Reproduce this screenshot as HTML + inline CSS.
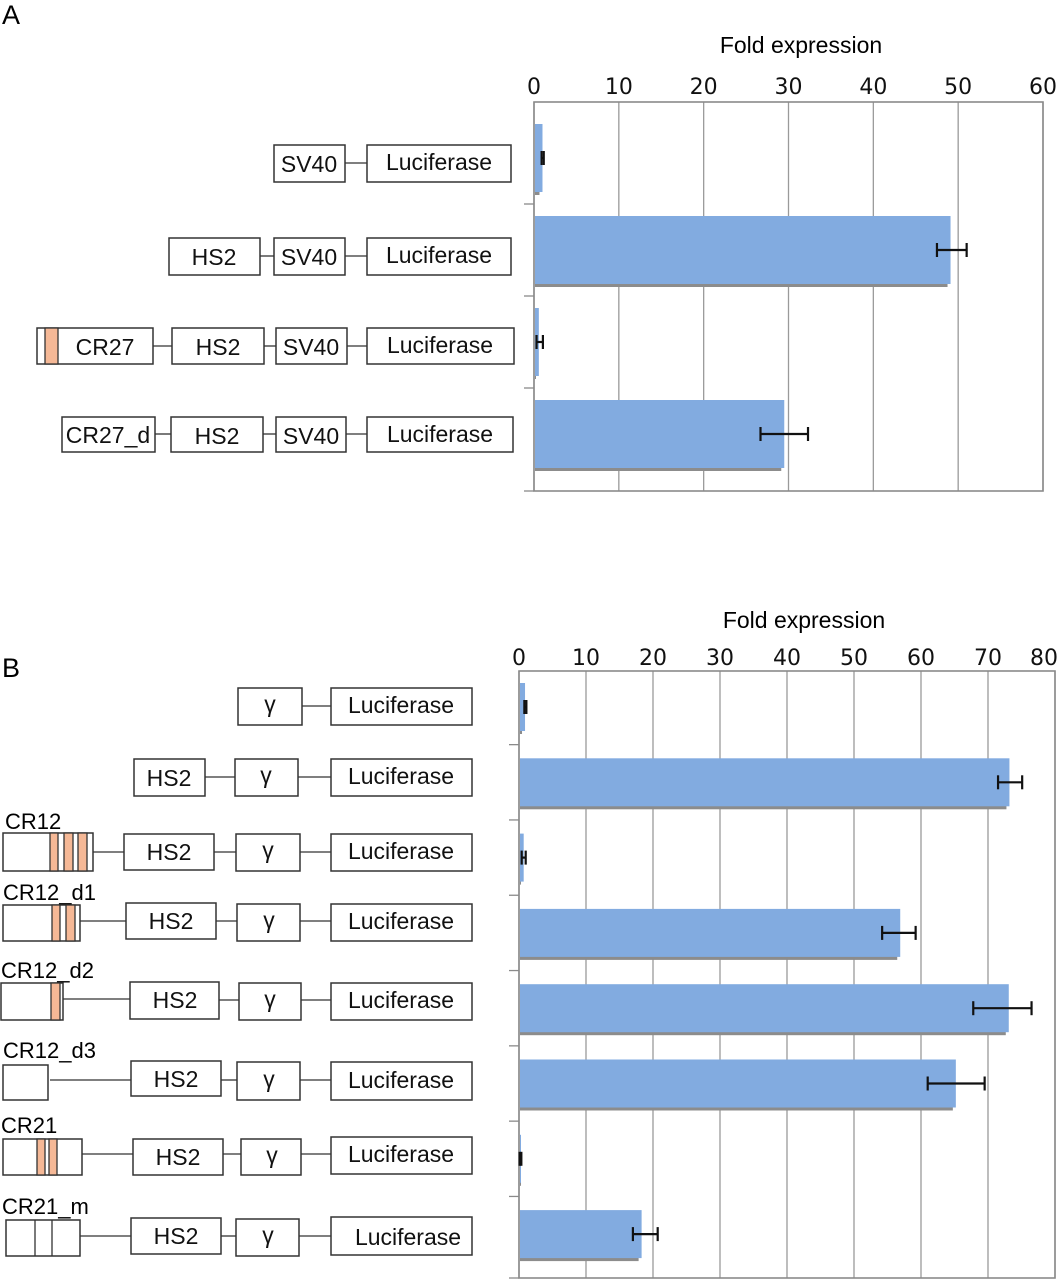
<!DOCTYPE html>
<html><head><meta charset="utf-8"><style>
html,body{margin:0;padding:0;background:#fff;}
svg{display:block;font-family:"Liberation Sans",sans-serif;}
.box{fill:#fff;stroke:#333;stroke-width:1.5;}
.ln{stroke:#333;stroke-width:1.3;}
.st{fill:#f5b896;stroke:#333;stroke-width:1.3;}
.lbl{font-size:23px;fill:#111;text-anchor:middle;}
.tick{font-family:"DejaVu Sans",sans-serif;font-size:22px;fill:#111;text-anchor:middle;}
</style></head><body>
<svg id="fig" width="1059" height="1280" viewBox="0 0 1059 1280">
<text x="2" y="24" font-size="27">A</text>
<text x="2" y="677" font-size="27">B</text>
<text x="801" y="53" font-size="23" text-anchor="middle">Fold expression</text>
<text x="804" y="628" font-size="23" text-anchor="middle">Fold expression</text>

<g>
<rect class="box" x="274" y="145" width="71" height="37"/><text class="lbl" x="309" y="172">SV40</text>
<line class="ln" x1="345" y1="163" x2="367" y2="163"/>
<rect class="box" x="367" y="145" width="144" height="37"/><text class="lbl" x="439" y="170">Luciferase</text>

<rect class="box" x="169" y="238" width="91" height="37"/><text class="lbl" x="214" y="265">HS2</text>
<line class="ln" x1="260" y1="256" x2="274" y2="256"/>
<rect class="box" x="274" y="238" width="71" height="37"/><text class="lbl" x="309" y="265">SV40</text>
<line class="ln" x1="345" y1="256" x2="367" y2="256"/>
<rect class="box" x="367" y="238" width="144" height="37"/><text class="lbl" x="439" y="263">Luciferase</text>

<rect class="box" x="37" y="328" width="116" height="36"/><rect class="st" x="45" y="328" width="13" height="36"/><text class="lbl" x="105" y="355">CR27</text>
<line class="ln" x1="153" y1="346" x2="172" y2="346"/>
<rect class="box" x="172" y="328" width="92" height="36"/><text class="lbl" x="218" y="355">HS2</text>
<line class="ln" x1="264" y1="346" x2="276" y2="346"/>
<rect class="box" x="276" y="328" width="71" height="36"/><text class="lbl" x="311" y="355">SV40</text>
<line class="ln" x1="347" y1="346" x2="367" y2="346"/>
<rect class="box" x="367" y="328" width="147" height="36"/><text class="lbl" x="440" y="353">Luciferase</text>

<rect class="box" x="62" y="417" width="93" height="35"/><text class="lbl" x="108" y="443">CR27_d</text>
<line class="ln" x1="155" y1="434" x2="171" y2="434"/>
<rect class="box" x="171" y="417" width="92" height="35"/><text class="lbl" x="217" y="444">HS2</text>
<line class="ln" x1="263" y1="434" x2="276" y2="434"/>
<rect class="box" x="276" y="417" width="70" height="35"/><text class="lbl" x="311" y="444">SV40</text>
<line class="ln" x1="346" y1="434" x2="367" y2="434"/>
<rect class="box" x="367" y="417" width="146" height="35"/><text class="lbl" x="440" y="442">Luciferase</text>
</g>

<g>
<rect class="box" x="238" y="688" width="64" height="37"/><text class="lbl" x="270" y="712">γ</text>
<line class="ln" x1="302" y1="706" x2="331" y2="706"/>
<rect class="box" x="331" y="688" width="141" height="37"/><text class="lbl" x="401" y="713">Luciferase</text>

<rect class="box" x="134" y="759" width="71" height="37"/><text class="lbl" x="169" y="786">HS2</text>
<line class="ln" x1="205" y1="777" x2="235" y2="777"/>
<rect class="box" x="235" y="759" width="63" height="37"/><text class="lbl" x="266" y="783">γ</text>
<line class="ln" x1="298" y1="777" x2="331" y2="777"/>
<rect class="box" x="331" y="759" width="141" height="37"/><text class="lbl" x="401" y="784">Luciferase</text>

<text x="5" y="829" font-size="22">CR12</text>
<rect class="box" x="3" y="833" width="90" height="38"/>
<rect class="st" x="50" y="833" width="8" height="38"/><rect class="st" x="64" y="833" width="9" height="38"/><rect class="st" x="78" y="833" width="9" height="38"/>
<line class="ln" x1="93" y1="852" x2="124" y2="852"/>
<rect class="box" x="124" y="834" width="90" height="36"/><text class="lbl" x="169" y="860">HS2</text>
<line class="ln" x1="214" y1="852" x2="236" y2="852"/>
<rect class="box" x="236" y="834" width="64" height="37"/><text class="lbl" x="268" y="858">γ</text>
<line class="ln" x1="300" y1="852" x2="331" y2="852"/>
<rect class="box" x="331" y="834" width="141" height="37"/><text class="lbl" x="401" y="859">Luciferase</text>

<text x="3" y="900" font-size="22">CR12_d1</text>
<rect class="box" x="3" y="905" width="77" height="36"/>
<rect class="st" x="52" y="905" width="8" height="36"/><rect class="st" x="66" y="905" width="9" height="36"/>
<line class="ln" x1="80" y1="921" x2="126" y2="921"/>
<rect class="box" x="126" y="903" width="90" height="36"/><text class="lbl" x="171" y="929">HS2</text>
<line class="ln" x1="216" y1="921" x2="237" y2="921"/>
<rect class="box" x="237" y="904" width="63" height="37"/><text class="lbl" x="269" y="928">γ</text>
<line class="ln" x1="300" y1="921" x2="331" y2="921"/>
<rect class="box" x="331" y="904" width="141" height="37"/><text class="lbl" x="401" y="929">Luciferase</text>

<text x="1" y="978" font-size="22">CR12_d2</text>
<rect class="box" x="1" y="983" width="62" height="37"/>
<rect class="st" x="51" y="983" width="9" height="37"/>
<line class="ln" x1="63" y1="999" x2="130" y2="999"/>
<rect class="box" x="130" y="982" width="89" height="37"/><text class="lbl" x="175" y="1008">HS2</text>
<line class="ln" x1="219" y1="1000" x2="239" y2="1000"/>
<rect class="box" x="239" y="983" width="62" height="37"/><text class="lbl" x="270" y="1007">γ</text>
<line class="ln" x1="301" y1="1000" x2="331" y2="1000"/>
<rect class="box" x="331" y="983" width="141" height="37"/><text class="lbl" x="401" y="1008">Luciferase</text>

<text x="3" y="1058" font-size="22">CR12_d3</text>
<rect class="box" x="3" y="1065" width="45" height="35"/>
<line class="ln" x1="50" y1="1080" x2="131" y2="1080"/>
<rect class="box" x="131" y="1061" width="90" height="35"/><text class="lbl" x="176" y="1087">HS2</text>
<line class="ln" x1="221" y1="1080" x2="237" y2="1080"/>
<rect class="box" x="237" y="1062" width="63" height="38"/><text class="lbl" x="269" y="1087">γ</text>
<line class="ln" x1="300" y1="1080" x2="331" y2="1080"/>
<rect class="box" x="331" y="1062" width="141" height="38"/><text class="lbl" x="401" y="1088">Luciferase</text>

<text x="1" y="1133" font-size="22">CR21</text>
<rect class="box" x="3" y="1139" width="79" height="36"/>
<rect class="st" x="37" y="1139" width="8" height="36"/><rect class="st" x="49" y="1139" width="8" height="36"/>
<line class="ln" x1="82" y1="1154" x2="133" y2="1154"/>
<rect class="box" x="133" y="1139" width="90" height="36"/><text class="lbl" x="178" y="1165">HS2</text>
<line class="ln" x1="223" y1="1154" x2="241" y2="1154"/>
<rect class="box" x="241" y="1139" width="60" height="36"/><text class="lbl" x="272" y="1163">γ</text>
<line class="ln" x1="301" y1="1154" x2="331" y2="1154"/>
<rect class="box" x="331" y="1137" width="141" height="37"/><text class="lbl" x="401" y="1162">Luciferase</text>

<text x="2" y="1214" font-size="22">CR21_m</text>
<rect class="box" x="6" y="1220" width="74" height="36"/>
<line class="ln" x1="35" y1="1220" x2="35" y2="1256"/><line class="ln" x1="52" y1="1220" x2="52" y2="1256"/>
<line class="ln" x1="80" y1="1236" x2="131" y2="1236"/>
<rect class="box" x="131" y="1218" width="90" height="36"/><text class="lbl" x="176" y="1244">HS2</text>
<line class="ln" x1="221" y1="1236" x2="236" y2="1236"/>
<rect class="box" x="236" y="1219" width="63" height="37"/><text class="lbl" x="268" y="1243">γ</text>
<line class="ln" x1="299" y1="1236" x2="331" y2="1236"/>
<rect class="box" x="331" y="1217" width="141" height="38"/><text class="lbl" x="408" y="1245">Luciferase</text>
</g>
<g id="chartA"></g>
<g id="chartB"></g>
</svg>
<script>
var aCategories = ["SV40", "HS2-SV40", "CR27-HS2-SV40", "CR27_d-HS2-SV40"];
var aValues = [1.0, 49.1, 0.57, 29.5];
var aErrLow = [0.9, 47.5, 0.3, 26.7];
var aErrHigh = [1.15, 51.0, 1.05, 32.3];
var aTicks = ["0","10","20","30","40","50","60"];

var bCategories = ["gamma", "HS2-gamma", "CR12", "CR12_d1", "CR12_d2", "CR12_d3", "CR21", "CR21_m"];
var bValues = [0.9, 73.2, 0.7, 56.9, 73.1, 65.2, 0.27, 18.3];
var bErrLow = [0.8, 71.5, 0.4, 54.2, 67.8, 61.0, 0.1, 17.0];
var bErrHigh = [1.1, 75.1, 1.0, 59.2, 76.5, 69.5, 0.35, 20.7];
var bTicks = ["0","10","20","30","40","50","60","70","80"];

var NS = "http://www.w3.org/2000/svg";
function mk(tag, attrs, parent){var e=document.createElementNS(NS,tag);for(var k in attrs)e.setAttribute(k,attrs[k]);parent.appendChild(e);return e;}

function drawChart(g, cfg, cats, vals, lo, hi, ticks, prefix){
  var maxV = parseFloat(ticks[ticks.length-1]);
  function x(v){return cfg.left + v/maxV*(cfg.right-cfg.left);}
  function yc(i){return cfg.c0 + i*cfg.step;}
  for (var t=0;t<ticks.length;t++){
    var v=parseFloat(ticks[t]);
    var gl=mk("line",{x1:x(v),x2:x(v),y1:cfg.top,y2:cfg.bottom,stroke:"#9a9a9a","stroke-width":1.3},g);
    
    
    var tl=mk("text",{x:Math.min(x(v),1059-15),y:cfg.labelY,"class":"tick"},g);
    tl.textContent=ticks[t];
    
    
  }
  var fr=mk("rect",{x:cfg.left,y:cfg.top,width:cfg.right-cfg.left,height:cfg.bottom-cfg.top,fill:"none",stroke:"#8a8a8a","stroke-width":1.6},g);
  
  
  for (var i=1;i<=cats.length;i++){
    var ty = i<cats.length ? yc(i)-cfg.step/2 : cfg.bottom;
    var tk=mk("line",{x1:cfg.left-10,x2:cfg.left,y1:ty,y2:ty,stroke:"#8a8a8a","stroke-width":1.3},g);
    
    
  }
  for (var j=0;j<cats.length;j++){
    var cy=yc(j), h=cfg.barH, x0=cfg.left+1, w=x(vals[j])-x0;
    var sh=mk("rect",{x:x0,y:cy-h/2+3,width:Math.max(w-3,1),height:h,fill:"#8c8c8c"},g);
    
    
    var b=mk("rect",{x:x0,y:cy-h/2,width:Math.max(w,1),height:h,fill:"#82abe0"},g);
    
    
    var eg=mk("g",{stroke:"#111","stroke-width":2.2},g);
    
    
    mk("line",{x1:x(lo[j]),x2:x(hi[j]),y1:cy,y2:cy},eg);
    mk("line",{x1:x(lo[j]),x2:x(lo[j]),y1:cy-7,y2:cy+7},eg);
    mk("line",{x1:x(hi[j]),x2:x(hi[j]),y1:cy-7,y2:cy+7},eg);
  }
}
drawChart(document.getElementById("chartA"),
  {left:534,right:1043,top:102,bottom:491,c0:158,step:92,barH:68,labelY:94},
  aCategories,aValues,aErrLow,aErrHigh,aTicks,"panel-a");
drawChart(document.getElementById("chartB"),
  {left:519,right:1055,top:671,bottom:1278,c0:707,step:75.3,barH:48,labelY:665},
  bCategories,bValues,bErrLow,bErrHigh,bTicks,"panel-b");
</script>
</body></html>
